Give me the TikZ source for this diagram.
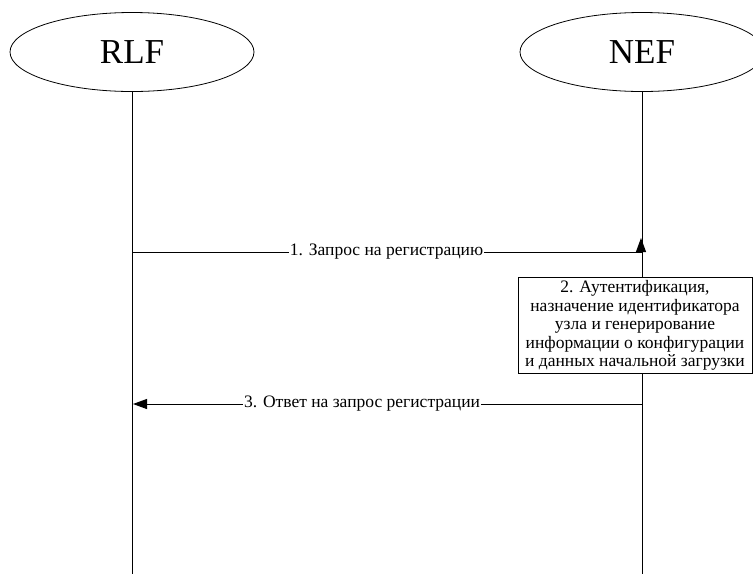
\documentclass[tikz,border=0pt]{standalone}
\usepackage{fontspec}
\setmainfont{Liberation Serif}
\usetikzlibrary{shapes.geometric,arrows.meta}
\begin{document}
\begin{tikzpicture}[x=1pt,y=-1pt,
  actor/.style={draw,ellipse,line width=0.8pt,minimum width=244pt,minimum height=79pt,
    inner sep=0pt,font=\fontsize{35}{40}\selectfont},
  lifeline/.style={line width=1pt},
  msg/.style={line width=1pt},
  msglabel/.style={fill=white,inner sep=1pt,font=\fontsize{17.5}{20}\selectfont},
  tip/.style={-{Triangle[length=14pt,width=10pt]}},
  actionbox/.style={draw,fill=white,line width=0.8pt,align=center,inner xsep=0pt,inner ysep=3pt,
    minimum width=234pt,font=\fontsize{17.5}{18.5}\selectfont}]
  \useasboundingbox (0,0) rectangle (753,574);

  % participants
  \node[actor] (rlf) at (132,52) {RLF};
  \node[actor] (nef) at (642,52) {NEF};

  % lifelines
  \coordinate (rlfend) at (132,574);
  \coordinate (nefend) at (642,574);
  \draw[lifeline] (rlf.south) -- (rlfend);
  \draw[lifeline] (nef.south) -- (nefend);

  % 1. registration request
  \coordinate (m1a) at (132,252);
  \coordinate (m1b) at (641,252);
  \coordinate (m1tip) at (641,238);
  \draw[msg] (m1a) -- node[msglabel] {1. Запрос на регистрацию} (m1b);
  \draw[msg,tip] (m1b) -- (m1tip);

  % 2. local processing at NEF
  \node[actionbox,anchor=north] (proc) at (635,277) {2. Аутентификация,\\назначение идентификатора\\узла и генерирование\\информации о конфигурации\\и данных начальной загрузки};

  % 3. registration response
  \coordinate (m3a) at (642,404);
  \coordinate (m3b) at (133,404);
  \draw[msg,tip] (m3a) -- node[msglabel,pos=0.55] {3. Ответ на запрос регистрации} (m3b);
\end{tikzpicture}
\end{document}
